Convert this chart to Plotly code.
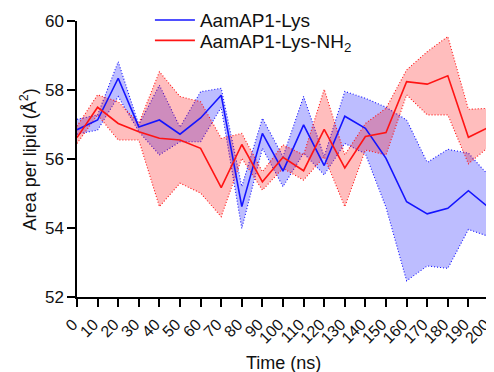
import plotly.graph_objects as go

time_ns = list(range(0, 201, 10))

lys_mean = [56.85, 57.13, 58.34, 56.93, 57.13, 56.72, 57.19, 57.85, 54.62, 56.74, 55.65,
            56.99, 55.81, 57.24, 56.89, 56.02, 54.76, 54.41, 54.57, 55.08, 54.59]
lys_upper = [57.15, 57.28, 58.82, 56.99, 58.14, 56.92, 57.95, 58.05, 55.20, 57.18, 56.07,
             57.81, 56.07, 57.96, 57.76, 57.50, 57.13, 55.90, 56.28, 56.17, 55.51]
lys_lower = [56.72, 56.84, 57.81, 56.80, 56.12, 56.50, 56.50, 57.50, 53.99, 56.31, 55.20,
             56.17, 55.54, 56.45, 56.15, 54.60, 52.47, 52.90, 52.83, 53.96, 53.75]

nh2_mean = [56.62, 57.50, 57.03, 56.79, 56.60, 56.55, 56.31, 55.17, 56.42, 55.34, 56.05,
            55.66, 56.86, 55.74, 56.65, 56.77, 58.24, 58.17, 58.41, 56.63, 56.92]
nh2_upper = [56.95, 57.86, 57.66, 57.03, 58.53, 57.81, 57.66, 56.60, 56.74, 55.63, 56.41,
             56.12, 58.02, 56.12, 57.03, 57.47, 58.58, 59.11, 59.55, 57.44, 57.47]
nh2_lower = [56.45, 57.28, 56.55, 56.55, 54.62, 55.30, 55.01, 54.33, 56.02, 55.10, 55.73,
             55.39, 56.07, 54.62, 56.26, 56.12, 57.86, 57.28, 57.28, 55.86, 56.36]

series_names = ["AamAP1-Lys", "AamAP1-Lys-NH<sub>2</sub>"]
x_ticks = [str(t) for t in time_ns]
y_ticks = [52, 54, 56, 58, 60]

BLUE = "rgb(20,20,255)"
RED = "rgb(255,20,20)"
BLUE_FILL = "rgba(0,0,255,0.26)"
RED_FILL = "rgba(255,0,0,0.26)"
FONT = "Liberation Sans, Arial, sans-serif"

fig = go.Figure()

for up, lo, col, fillc in [(lys_upper, lys_lower, BLUE, BLUE_FILL),
                           (nh2_upper, nh2_lower, RED, RED_FILL)]:
    fig.add_trace(go.Scatter(x=time_ns, y=up, mode="lines",
                             line=dict(color=col, width=1.1, dash="1px,2px"),
                             showlegend=False, hoverinfo="skip"))
    fig.add_trace(go.Scatter(x=time_ns, y=lo, mode="lines", fill="tonexty",
                             fillcolor=fillc,
                             line=dict(color=col, width=1.1, dash="1px,2px"),
                             showlegend=False, hoverinfo="skip"))

fig.add_trace(go.Scatter(x=time_ns, y=lys_mean, mode="lines", name=series_names[0],
                         line=dict(color=BLUE, width=1.6), legend="legend"))
fig.add_trace(go.Scatter(x=time_ns, y=nh2_mean, mode="lines", name=series_names[1],
                         line=dict(color=RED, width=1.6), legend="legend2"))

legend_common = dict(x=0.177, xanchor="left", yanchor="top",
                     bgcolor="rgba(0,0,0,0)", font=dict(size=19), itemwidth=40)

# page body has an 8px margin; size the figure so the plot area lands where the reference has it
fig.update_layout(
    width=486, height=364,
    margin=dict(l=69, r=5, t=13, b=75, autoexpand=False),
    paper_bgcolor="white", plot_bgcolor="white",
    font=dict(family=FONT, size=17, color="#111"),
    legend=dict(y=1.072, **legend_common),
    legend2=dict(y=0.998, **legend_common),
    showlegend=True,
    annotations=[
        dict(text="Area per lipid (Å<sup>2</sup>)", xref="paper", yref="paper",
             x=-0.118, y=0.5, xanchor="center", yanchor="middle", textangle=-90,
             showarrow=False, font=dict(size=18)),
        dict(text="Time (ns)", xref="paper", yref="paper",
             x=0.5, y=-0.24, xanchor="center", yanchor="middle",
             showarrow=False, font=dict(size=18)),
    ],
)

fig.update_xaxes(
    range=[0, 200], tickvals=time_ns, ticktext=x_ticks, tickangle=-45,
    ticks="outside", ticklen=8, tickwidth=1.5, tickcolor="black",
    showline=True, linecolor="black", linewidth=1.5,
    showgrid=False, zeroline=False, ticklabeloverflow="allow",
    ticklabelshift=-4, ticklabelstandoff=2,
    tickfont=dict(size=16),
)
fig.update_yaxes(
    range=[52, 60], tickvals=y_ticks,
    ticks="outside", ticklen=8, tickwidth=1.5, tickcolor="black",
    showline=True, linecolor="black", linewidth=1.5,
    showgrid=False, zeroline=False, ticklabeloverflow="allow",
    tickfont=dict(size=17),
)

fig.write_html("out.html")
